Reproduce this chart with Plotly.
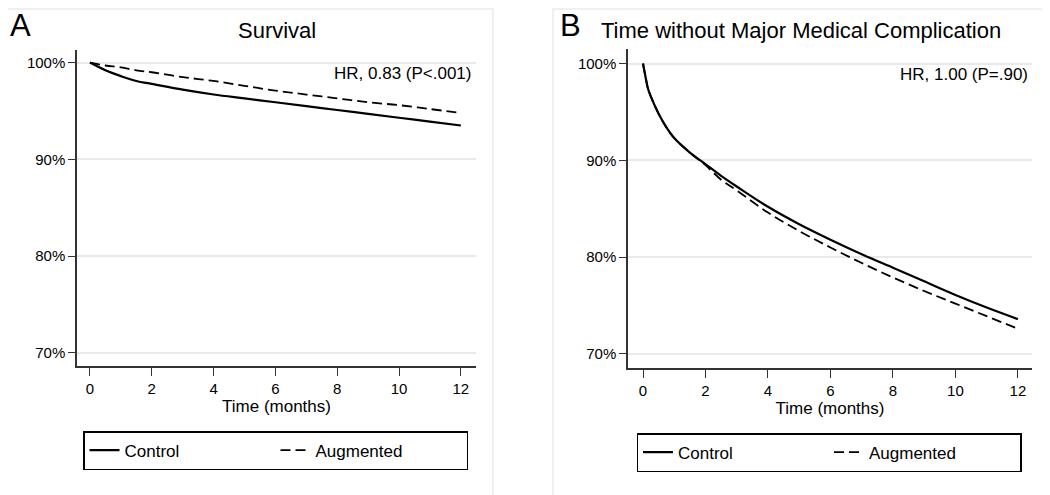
import plotly.graph_objects as go
from plotly.subplots import make_subplots

# Panel A - survival (months, percent surviving)
surv_t = [0, 0.5, 1, 1.5, 2, 3, 4, 5, 6, 7, 8, 9, 10, 11, 12]
surv_control = [100, 99.2, 98.6, 98.1, 97.8, 97.2, 96.7, 96.3, 95.9, 95.5, 95.1, 94.7, 94.3, 93.9, 93.5]
surv_augmented = [100, 99.7, 99.5, 99.2, 99.0, 98.5, 98.1, 97.6, 97.1, 96.7, 96.3, 95.9, 95.6, 95.2, 94.8]

# Panel B - time without major medical complication
comp_t = [0, 0.1, 0.16, 0.25, 0.5, 0.75, 1, 1.5, 2, 2.5, 3, 4, 5, 6, 7, 8, 9, 10, 11, 12]
comp_control = [100, 98.3, 97.4, 96.6, 94.8, 93.4, 92.3, 90.8, 89.6, 88.4, 87.3, 85.2, 83.4, 81.8, 80.3,
                78.9, 77.5, 76.1, 74.8, 73.6]
comp_augmented = [100, 98.3, 97.4, 96.6, 94.8, 93.4, 92.3, 90.8, 89.5, 88.0, 86.9, 84.6, 82.7, 81.0, 79.4,
                  77.9, 76.5, 75.2, 73.9, 72.6]

y_ticks = [70, 80, 90, 100]
y_labels = ["70%", "80%", "90%", "100%"]
x_ticks = [0, 2, 4, 6, 8, 10, 12]

FONT = "Liberation Sans, Arial, Helvetica, sans-serif"
# the page body adds an 8px margin, so the figure is a bit smaller and
# positions below are given in window pixels
OFF = 8
W, H = 1050 - OFF, 495 - OFF


def px(x):
    return (x - OFF) / W


def py(y):
    return 1 - (y - OFF) / H


fig = make_subplots(rows=1, cols=2)

fig.add_trace(go.Scatter(x=surv_t, y=surv_control, mode="lines", name="Control",
                         line=dict(color="black", width=2.2), line_shape="spline", legend="legend"), 1, 1)
fig.add_trace(go.Scatter(x=surv_t, y=surv_augmented, mode="lines", name="Augmented",
                         line=dict(color="black", width=1.8, dash="10px,5px"), line_shape="spline",
                         legend="legend"), 1, 1)
fig.add_trace(go.Scatter(x=comp_t, y=comp_control, mode="lines", name="Control",
                         line=dict(color="black", width=2.2), line_shape="spline", legend="legend2"), 1, 2)
fig.add_trace(go.Scatter(x=comp_t, y=comp_augmented, mode="lines", name="Augmented",
                         line=dict(color="black", width=1.8, dash="10px,5px"), line_shape="spline",
                         legend="legend2"), 1, 2)


def xaxis(domain, rng):
    return dict(domain=domain, range=rng, automargin=False, showline=True, linecolor="#333", linewidth=1.5,
                ticks="outside", ticklen=8, tickcolor="#333", zeroline=False, showgrid=False,
                tickvals=x_ticks, tickfont=dict(family=FONT, size=15, color="black"),
                title=dict(text="Time (months)", font=dict(family=FONT, size=17, color="black"), standoff=0))


def yaxis(domain, rng):
    return dict(domain=domain, range=rng, automargin=False, showline=True, linecolor="#333", linewidth=1.5,
                ticks="outside", ticklen=7, tickcolor="#333", zeroline=False, showgrid=True,
                gridcolor="#e9e9e9", gridwidth=1.5, tickvals=y_ticks, ticktext=y_labels,
                tickfont=dict(family=FONT, size=15, color="black"))


fig.update_layout(
    xaxis=xaxis([px(77), px(476)], [-0.42, 12.49]),
    yaxis=yaxis([py(366), py(50)], [68.65, 101.3]),
    xaxis2=xaxis([px(628), px(1032)], [-0.48, 12.45]),
    yaxis2=yaxis([py(368), py(49)], [68.55, 101.5]),
)

legend_common = dict(orientation="h", bordercolor="black", borderwidth=1.5, bgcolor="white",
                     font=dict(family=FONT, size=17, color="black"), xanchor="center", yanchor="middle",
                     entrywidth=146)
fig.update_layout(
    legend=dict(**legend_common, x=px(275.5), y=py(450.5)),
    legend2=dict(**legend_common, x=px(829), y=py(452.5)),
)

ann = []
ann.append(dict(text="A", x=px(8), y=py(25), xanchor="left", yanchor="middle",
                font=dict(family=FONT, size=31, color="black")))
ann.append(dict(text="Survival", x=px(277), y=py(31), xanchor="center", yanchor="middle",
                font=dict(family=FONT, size=22, color="black")))
ann.append(dict(text="B", x=px(558), y=py(25), xanchor="left", yanchor="middle",
                font=dict(family=FONT, size=31, color="black")))
ann.append(dict(text="Time without Major Medical Complication", x=px(599), y=py(30), xanchor="left",
                yanchor="middle", font=dict(family=FONT, size=22, color="black")))
ann.append(dict(text="HR, 0.83 (P<.001)", x=px(474), y=py(73), xanchor="right", yanchor="middle",
                font=dict(family=FONT, size=17, color="black")))
ann.append(dict(text="HR, 1.00 (P=.90)", x=px(1030), y=py(74), xanchor="right", yanchor="middle",
                font=dict(family=FONT, size=17, color="black")))
for a in ann:
    a.update(xref="paper", yref="paper", showarrow=False)

# faint panel frames
shapes = [
    dict(type="rect", xref="paper", yref="paper", x0=px(0), x1=px(493), y0=py(500), y1=py(9),
         line=dict(color="#ececec", width=1.5)),
    dict(type="rect", xref="paper", yref="paper", x0=px(553), x1=px(1055), y0=py(500), y1=py(9),
         line=dict(color="#ececec", width=1.5)),
]

fig.update_layout(
    width=W, height=H, margin=dict(l=0, r=0, t=0, b=0),
    paper_bgcolor="white", plot_bgcolor="white",
    annotations=ann, shapes=shapes, showlegend=True,
    font=dict(family=FONT, color="black"),
)

fig.write_html("out.html")
